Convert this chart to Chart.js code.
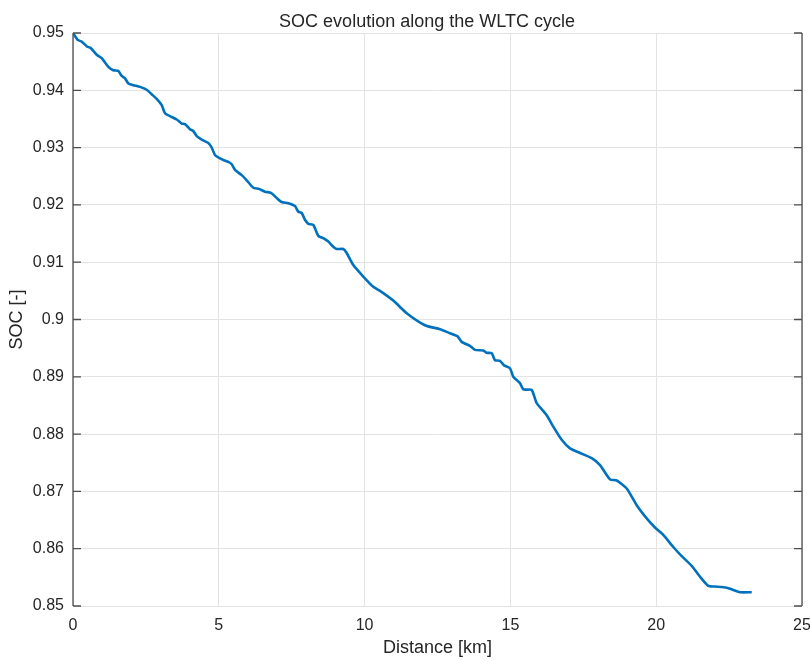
<!DOCTYPE html>
<html>
<head>
<meta charset="utf-8">
<title>SOC evolution along the WLTC cycle</title>
<script src="https://cdn.jsdelivr.net/npm/chart.js@4.4.0/dist/chart.umd.min.js"></script>
<style>
  html, body { margin: 0; padding: 0; background: #fff; }
  #wrap { width: 810px; height: 660px; }
</style>
</head>
<body>
<div id="wrap"><canvas id="socChart" width="810" height="660"></canvas></div>
<script>
// distance travelled [km] and battery state of charge [-]
const distanceKm = [
  0.000, 0.161, 0.298, 0.490, 0.607, 0.813, 0.984, 1.211, 1.382, 1.553,
  1.670, 1.783, 1.896, 2.068, 2.298, 2.527, 2.699, 2.870, 3.042, 3.155,
  3.326, 3.556, 3.728, 3.841, 4.012, 4.125, 4.242, 4.414, 4.640, 4.757,
  4.870, 5.041, 5.178, 5.326, 5.442, 5.556, 5.785, 5.957, 6.183, 6.379,
  6.584, 6.790, 6.986, 7.157, 7.383, 7.613, 7.726, 7.843, 7.956, 8.069,
  8.241, 8.412, 8.584, 8.755, 8.927, 9.043, 9.270, 9.386, 9.613, 9.955,
  10.298, 10.528, 10.984, 11.444, 12.071, 12.586, 12.929, 13.179, 13.330, 13.615,
  13.786, 14.071, 14.187, 14.359, 14.472, 14.643, 14.781, 14.986, 15.099, 15.329,
  15.443, 15.730, 15.902, 16.245, 16.471, 16.759, 17.044, 17.387, 17.788, 18.073,
  18.416, 18.646, 18.988, 19.331, 19.674, 19.959, 20.243, 20.586, 20.874, 21.217,
  21.502, 21.787, 22.016, 22.418, 22.644, 22.874, 23.275
];
const socValues = [
  0.9500, 0.9488, 0.9485, 0.9476, 0.9474, 0.9462, 0.9456, 0.9441, 0.9435, 0.9434,
  0.9425, 0.9421, 0.9412, 0.9409, 0.9406, 0.9401, 0.9393, 0.9385, 0.9374, 0.9360,
  0.9355, 0.9349, 0.9342, 0.9341, 0.9332, 0.9329, 0.9320, 0.9314, 0.9308, 0.9300,
  0.9287, 0.9281, 0.9278, 0.9275, 0.9271, 0.9261, 0.9252, 0.9243, 0.9230, 0.9228,
  0.9223, 0.9221, 0.9212, 0.9205, 0.9203, 0.9198, 0.9188, 0.9186, 0.9174, 0.9167,
  0.9165, 0.9146, 0.9142, 0.9136, 0.9127, 0.9123, 0.9123, 0.9116, 0.9095, 0.9075,
  0.9057, 0.9050, 0.9033, 0.9011, 0.8990, 0.8983, 0.8976, 0.8971, 0.8961, 0.8954,
  0.8947, 0.8946, 0.8942, 0.8941, 0.8929, 0.8928, 0.8920, 0.8915, 0.8900, 0.8889,
  0.8878, 0.8877, 0.8854, 0.8833, 0.8813, 0.8790, 0.8775, 0.8767, 0.8758, 0.8746,
  0.8721, 0.8719, 0.8705, 0.8676, 0.8653, 0.8637, 0.8624, 0.8603, 0.8587, 0.8570,
  0.8551, 0.8535, 0.8534, 0.8532, 0.8528, 0.8524, 0.8524
];
const xTicks = [0, 5, 10, 15, 20, 25];
const yTicks = [0.85, 0.86, 0.87, 0.88, 0.89, 0.90, 0.91, 0.92, 0.93, 0.94, 0.95];
const chartTitle = 'SOC evolution along the WLTC cycle';

const textColor = '#262626';
const gridColor = '#e3e3e3';
const fontFamily = '"Liberation Sans", Arial, Helvetica, sans-serif';

// title, plus left/right axis lines with inward ticks (top/bottom stay light)
const axesBox = {
  id: 'axesBox',
  afterDraw(chart) {
    const { ctx, chartArea: a, scales } = chart;
    ctx.save();
    ctx.strokeStyle = '#4d4d4d';
    ctx.lineWidth = 1.3;
    ctx.beginPath();
    ctx.moveTo(a.left, a.top); ctx.lineTo(a.left, a.bottom);
    ctx.moveTo(a.right, a.top); ctx.lineTo(a.right, a.bottom);
    yTicks.forEach(v => {
      const y = scales.y.getPixelForValue(v);
      ctx.moveTo(a.left, y); ctx.lineTo(a.left + 8, y);
      ctx.moveTo(a.right, y); ctx.lineTo(a.right - 8, y);
    });
    ctx.stroke();

    ctx.fillStyle = textColor;
    ctx.font = '18px ' + fontFamily;
    ctx.textAlign = 'center';
    ctx.textBaseline = 'alphabetic';
    ctx.fillText(chartTitle, 427, 27);
    ctx.restore();
  }
};

new Chart(document.getElementById('socChart'), {
  type: 'scatter',
  data: {
    datasets: [{
      label: 'SOC',
      data: distanceKm.map((d, i) => ({ x: d, y: socValues[i] })),
      showLine: true,
      borderColor: '#0072BD',
      borderWidth: 2.6,
      pointRadius: 0,
      tension: 0.2,
      fill: false
    }]
  },
  options: {
    responsive: false,
    animation: false,
    layout: { padding: { left: 0, right: 8, top: 33, bottom: 0 } },
    plugins: {
      legend: { display: false },
      tooltip: { enabled: false },
      title: { display: false }
    },
    scales: {
      x: {
        type: 'linear',
        min: 0,
        max: 25,
        afterBuildTicks: s => { s.ticks = xTicks.map(v => ({ value: v })); },
        afterFit: s => { s.height = 54; s.paddingLeft = 0; s.paddingRight = 0; },
        grid: { color: gridColor, lineWidth: 1, drawTicks: false },
        border: { display: false },
        ticks: {
          color: textColor,
          padding: 10,
          maxRotation: 0,
          font: { family: fontFamily, size: 16 },
          callback: v => String(v)
        },
        title: {
          display: true,
          text: 'Distance [km]',
          color: textColor,
          font: { family: fontFamily, size: 18 },
          padding: { top: 0, bottom: 1 }
        }
      },
      y: {
        type: 'linear',
        min: 0.85,
        max: 0.95,
        afterBuildTicks: s => { s.ticks = yTicks.map(v => ({ value: v })); },
        afterFit: s => { s.width = 73; s.paddingTop = 0; s.paddingBottom = 0; },
        grid: { color: gridColor, lineWidth: 1, drawTicks: false },
        border: { display: false },
        ticks: {
          color: textColor,
          padding: 9,
          font: { family: fontFamily, size: 16 },
          callback: v => String(+v.toFixed(2))
        },
        title: {
          display: true,
          text: 'SOC [-]',
          color: textColor,
          font: { family: fontFamily, size: 18 },
          padding: { top: 6, bottom: 0 }
        }
      }
    }
  },
  plugins: [axesBox]
});
</script>
</body>
</html>
